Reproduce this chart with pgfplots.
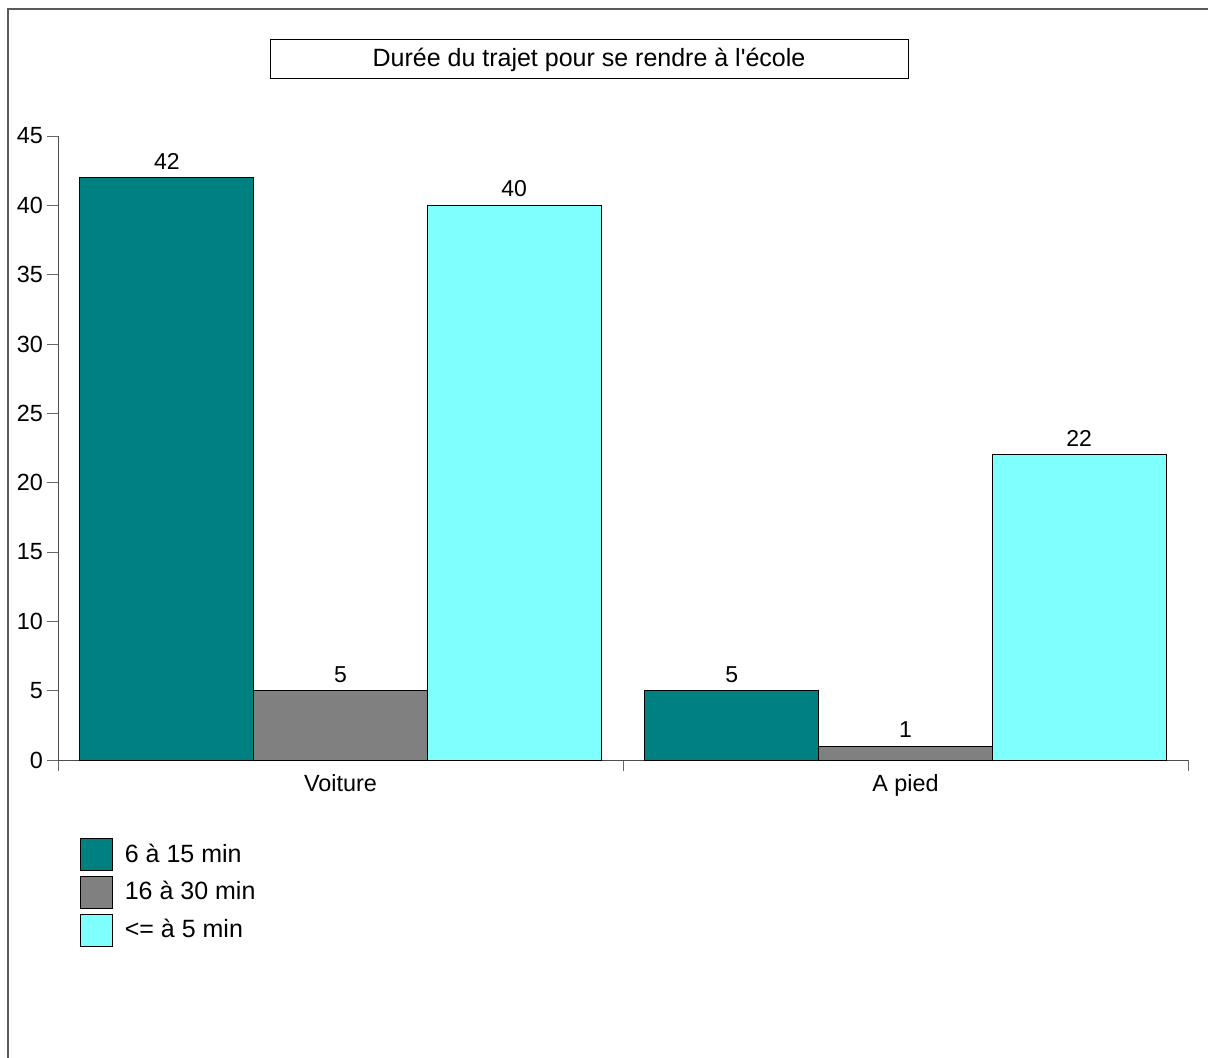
\documentclass[border=0pt]{standalone}
\usepackage{fontspec}
\setmainfont{Liberation Sans}
\usepackage{pgfplots}
\pgfplotsset{compat=1.18}
\definecolor{cteal}{HTML}{008080}
\definecolor{cgray}{HTML}{808080}
\definecolor{ccyan}{HTML}{80FFFF}
\begin{document}
\fontsize{11.5}{13.5}\selectfont
\begin{tikzpicture}
\useasboundingbox (0,0) rectangle (604pt,-528.5pt);
\begin{axis}[
 at={(29pt,-380pt)}, anchor=south west,
 scale only axis, width=565pt, height=312pt,
 font=\fontsize{11.7}{13.5}\selectfont,
 xmin=-0.5, xmax=1.5, ymin=0, ymax=45,
 axis lines*=left,
 axis line style={line width=0.5pt, black!70},
 ybar=0pt, bar width=86.85pt,
 xtick={-0.5,0.5,1.5}, xticklabels={},
 extra x ticks={0,1}, extra x tick labels={Voiture, A pied},
 extra x tick style={major tick length=0pt, tick label style={yshift=-3pt}},
 ytick={0,5,...,45},
 yticklabel style={xshift=2pt},
 tick align=outside, major tick length=5.5pt,
 tick style={line width=0.5pt, black!60},
 /pgf/number format/assume math mode=true,
 nodes near coords,
 every node near coord/.append style={black, font=\fontsize{11.5}{13.5}\selectfont},
 clip=false,
 legend style={at={(0.0195,-0.1254)}, anchor=north west, draw=none, fill=none,
   inner sep=0pt, outer sep=0pt, row sep=2.5pt, font=\fontsize{12.5}{14}\selectfont,
   nodes={inner sep=0pt, outer sep=0pt},
   /tikz/every odd column/.append style={column sep=6pt}},
 legend cell align=left,
 legend image code/.code={\draw[#1,draw=black,line width=0.4pt] (0pt,-8pt) rectangle (16pt,8pt);},
]
\addplot[fill=cteal, draw=black, line width=0.5pt] coordinates {(0,42) (1,5)};
\addplot[fill=cgray, draw=black, line width=0.5pt] coordinates {(0,5) (1,1)};
\addplot[fill=ccyan, draw=black, line width=0.5pt] coordinates {(0,40) (1,22)};
\legend{6 à 15 min, 16 à 30 min, <= à 5 min}
\end{axis}
\begin{scope}[x=0.5pt, y=-0.5pt]
\draw[black!65, line width=0.6pt] (8,1060) -- (8,9) -- (1210,9);
\draw[black, line width=0.5pt] (270,39) rectangle (908,78);
\node[anchor=base, font=\fontsize{12.5}{14}\selectfont] at (589,66) {Durée du trajet pour se rendre à l\textquotesingle école};
\end{scope}
\end{tikzpicture}
\end{document}
